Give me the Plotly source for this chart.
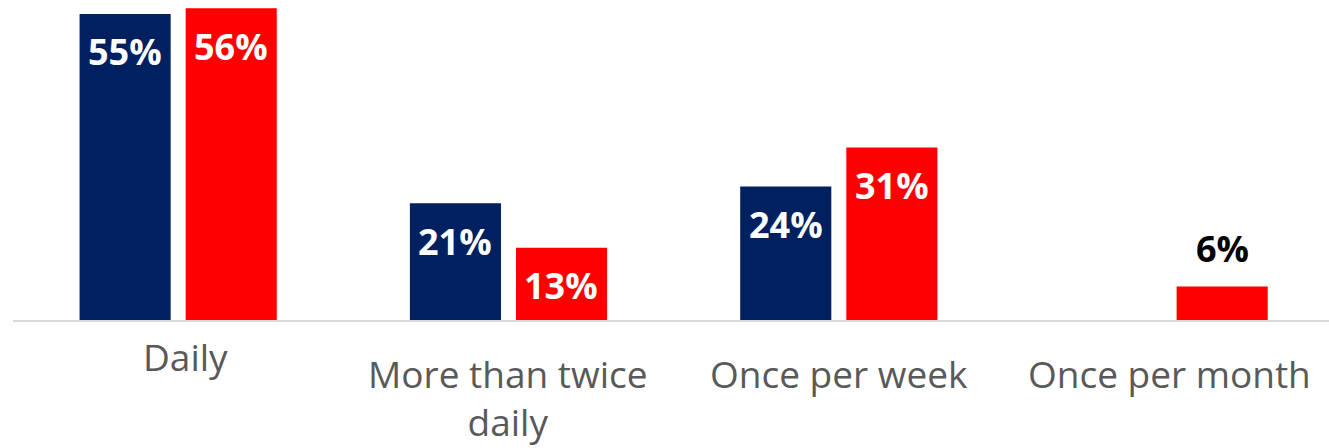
import plotly.graph_objects as go

categories = ["Daily", "More than twice<br>daily", "Once per week", "Once per month"]
series_a = [55, 21, 24, None]
series_b = [56, 13, 31, 6]
series_names = ["Series A", "Series B"]

NAVY = "#002060"
RED = "#FF0000"
LABEL_GRAY = "#595959"
FONT = "Open Sans"

fig = go.Figure()
for name, vals, color in [(series_names[0], series_a, NAVY), (series_names[1], series_b, RED)]:
    fig.add_trace(go.Bar(
        x=categories, y=vals, name=name,
        marker=dict(color=color, line=dict(width=0)),
        hoverinfo="skip",
    ))

# value labels: inside near the top for tall bars, above the bar for short ones
annotations = []
for idx, (vals, color) in enumerate([(series_a, NAVY), (series_b, RED)]):
    for i, v in enumerate(vals):
        if v is None:
            continue
        inside = v >= 10
        annotations.append(dict(
            x=i, y=v, xref="x", yref="y",
            xshift=(-53 if idx == 0 else 53),
            text=f"{v}%", showarrow=False,
            yanchor="middle", yshift=(-38 if inside else 38),
            font=dict(family=FONT, size=36, color="white" if inside else "black", weight="bold"),
        ))

# category labels below the baseline
label_yshift = {0: -9}
label_xshift = {0: 7}
for i, c in enumerate(categories):
    annotations.append(dict(
        x=i, y=0, xref="x", yref="paper",
        text=c, showarrow=False, yanchor="top",
        yshift=label_yshift.get(i, -26),
        xshift=label_xshift.get(i, 0),
        font=dict(family=FONT, size=37, color=LABEL_GRAY),
    ))

fig.update_layout(
    width=1329, height=448,
    margin=dict(l=13, r=0, t=0, b=128),
    paper_bgcolor="white", plot_bgcolor="white",
    barmode="group", bargap=0.3576, bargroupgap=0.1415,
    showlegend=False,
    annotations=annotations,
    xaxis=dict(
        range=[-0.5, 3.484], showticklabels=False, ticks="",
        showline=True, linecolor="#D9D9D9", linewidth=2,
        showgrid=False, zeroline=False,
    ),
    yaxis=dict(
        range=[0, 57.5], visible=False, showgrid=False, zeroline=False,
    ),
)

fig.write_html("out.html")
